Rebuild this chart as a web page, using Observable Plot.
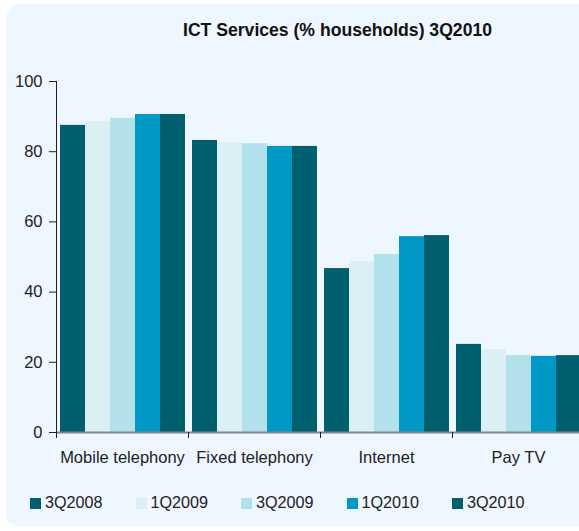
<!DOCTYPE html>
<html><head><meta charset="utf-8">
<script src="https://cdn.jsdelivr.net/npm/d3@7"></script>
<script src="https://cdn.jsdelivr.net/npm/@observablehq/plot@0.6"></script>
<style>
html,body{margin:0;padding:0;background:#fff;overflow:hidden;width:579px;height:531px;}
#panel{position:absolute;left:6px;top:4px;width:720px;height:522px;background:#eef6ff;border-radius:15px 0 0 11px;}
#title{position:absolute;left:0;width:675px;top:20px;text-align:center;font:bold 17.6px "Liberation Sans",Arial,sans-serif;color:#111;white-space:nowrap;}
#chart{position:absolute;left:0;top:0;width:584px;height:531px;}
#legend{position:absolute;left:0;top:0;font:16.2px "Liberation Sans",Arial,sans-serif;color:#222;}
.item{position:absolute;top:493px;height:18px;line-height:18px;white-space:nowrap;}
.sw{position:absolute;left:0;top:5px;width:11px;height:11px;}
.lb{position:absolute;left:15px;top:0;}
</style>
</head><body>
<div id="panel"></div>
<div id="title">ICT Services (% households) 3Q2010</div>
<div id="chart"></div>
<div id="legend"></div>
<script>
const categories = ["Mobile telephony", "Fixed telephony", "Internet", "Pay TV"];
const series = ["3Q2008", "1Q2009", "3Q2009", "1Q2010", "3Q2010"];
const mobileTelephony = [87.5, 88.6, 89.5, 90.6, 90.6];
const fixedTelephony = [83.2, 82.6, 82.3, 81.5, 81.5];
const internet = [46.7, 48.7, 50.7, 55.8, 56.1];
const payTV = [25.1, 23.6, 21.9, 21.7, 21.9];
const colors = ["#00606f", "#daf0f5", "#b2e0eb", "#0098c4", "#00606f"];
const yTicks = [0, 20, 40, 60, 80, 100];

const valuesByCategory = [mobileTelephony, fixedTelephony, internet, payTV];
const data = categories.flatMap((c, i) =>
  series.map((s, j) => ({category: c, series: s, value: valuesByCategory[i][j]})));

const marginTop = 81, marginBottom = 99, height = 531;
const frameH = height - marginTop - marginBottom;

const chart = Plot.plot({
  width: 584, height,
  marginLeft: 56, marginRight: 0, marginTop, marginBottom,
  style: {background: "transparent", fontFamily: "'Liberation Sans', Arial, sans-serif", fontSize: "16.5px", color: "#222", overflow: "visible", maxWidth: "none", width: "584px", height: "531px"},
  fx: {domain: categories, padding: 0, label: null},
  x: {domain: series, paddingInner: 0, paddingOuter: 0.14, axis: null},
  y: {domain: [0, 100], label: null, axis: null},
  color: {domain: series, range: colors},
  marks: [
    Plot.barY(data, {fx: "category", x: "series", y: "value", fill: "series"}),
    Plot.ruleY([0], {stroke: "#858585", strokeWidth: 2}),
    Plot.frame({anchor: "left", stroke: "#222", insetTop: frameH, insetBottom: -5}),
    Plot.frame({anchor: "left", stroke: "#222", facetAnchor: "left"}),
    Plot.axisY({ticks: yTicks, tickSize: 7, tickPadding: 7, stroke: "#222", fill: "#222", fontSize: 16.5, label: null}),
    Plot.axisFx({anchor: "bottom", tickSize: 0, tickPadding: 19, fontSize: 16.5, fill: "#222", label: null})
  ]
});
document.getElementById("chart").append(chart);

const legend = document.getElementById("legend");
series.forEach((s, i) => {
  const item = document.createElement("div");
  item.className = "item";
  item.style.left = (30 + i * 105.5) + "px";
  const sw = document.createElement("div");
  sw.className = "sw";
  sw.style.background = colors[i];
  const lb = document.createElement("div");
  lb.className = "lb";
  lb.textContent = s;
  item.append(sw, lb);
  legend.append(item);
});
</script>
</body></html>
